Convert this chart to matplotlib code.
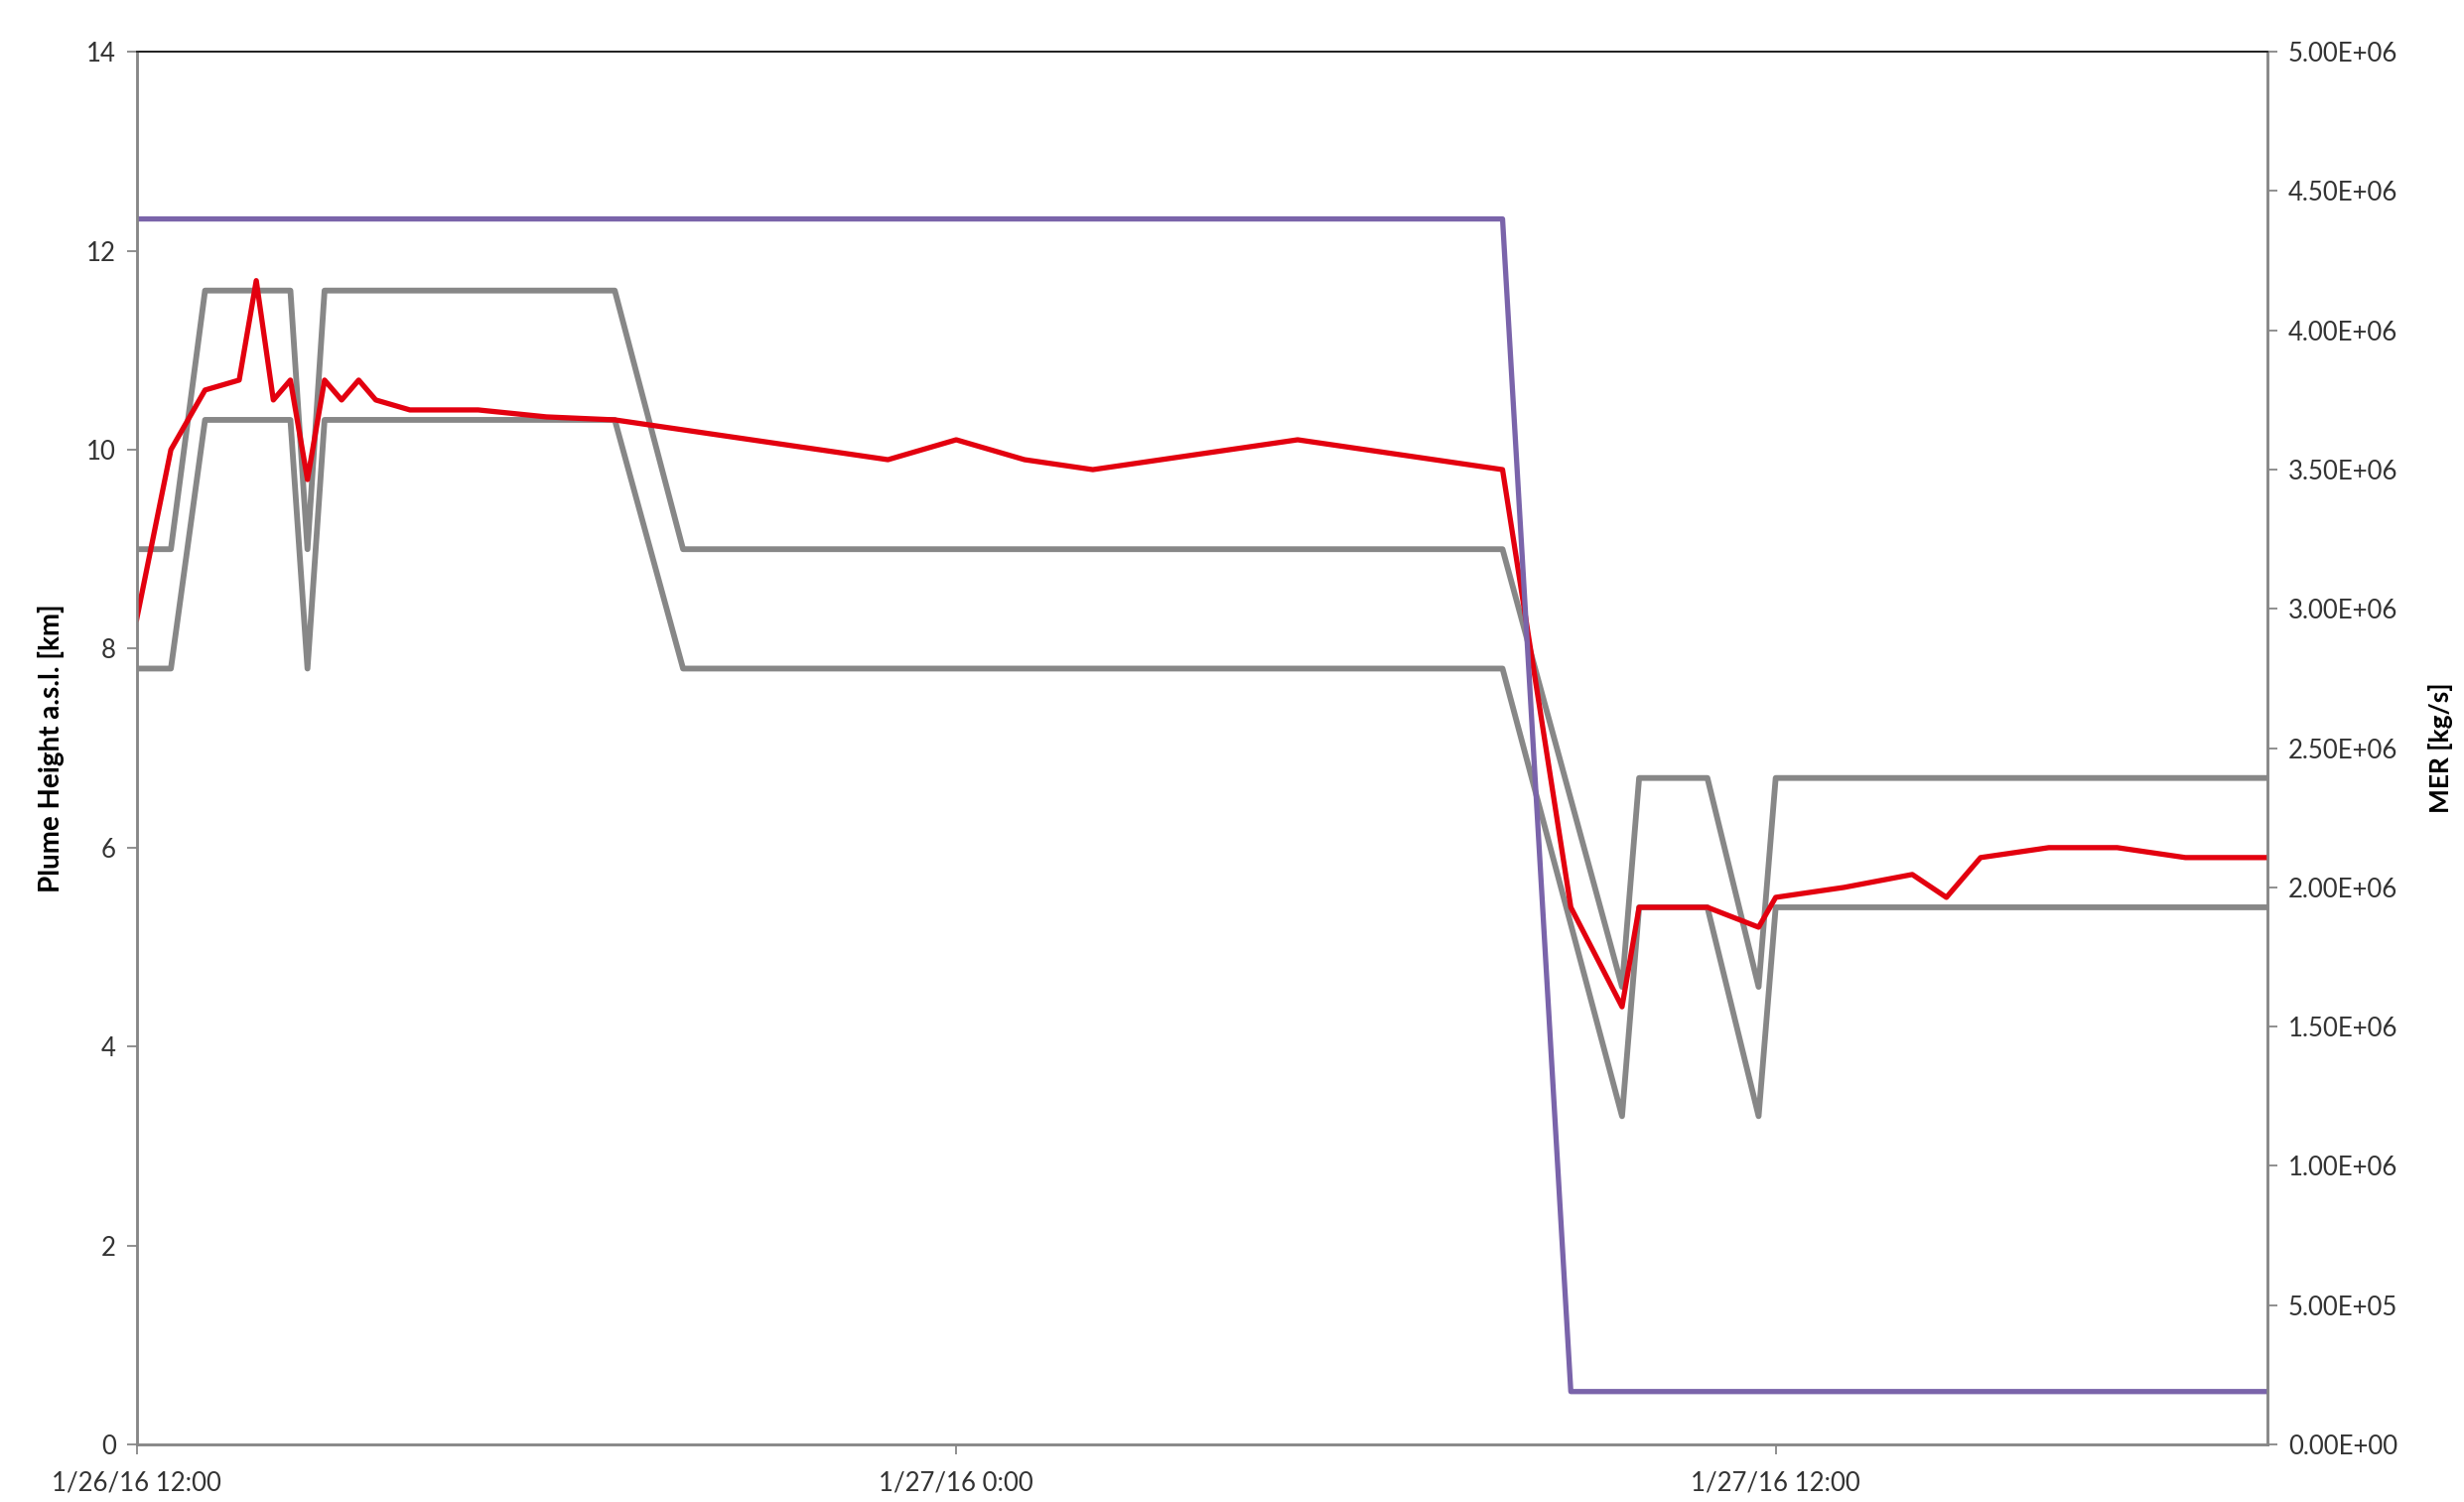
import numpy as np
import pandas as pd
import matplotlib
matplotlib.use('Agg')
import matplotlib.pyplot as plt
import matplotlib.dates as mdates
from matplotlib.ticker import FuncFormatter, MultipleLocator

# start of the record
start = pd.Timestamp('2016-01-26 12:00')

# plume height observations (hours after start, km a.s.l.)
obs_hours = [0, 0.5, 1, 1.5, 1.75, 2, 2.25, 2.5, 2.75, 3, 3.25, 3.5, 4, 5, 6, 7,
             9, 11, 12, 13, 14, 17, 20, 21, 21.75, 22, 23, 23.75, 24, 25, 26,
             26.5, 27, 28, 29, 30, 31.2]
obs_height = [8.3, 10.0, 10.6, 10.7, 11.7, 10.5, 10.7, 9.7, 10.7, 10.5, 10.7, 10.5,
              10.4, 10.4, 10.33, 10.3, 10.1, 9.9, 10.1, 9.9, 9.8, 10.1, 9.8, 5.4,
              4.4, 5.4, 5.4, 5.2, 5.5, 5.6, 5.73, 5.5, 5.9, 6.0, 6.0, 5.9, 5.9]

# upper / lower bounds (km)
bound_hours = [0, 0.5, 1, 2.25, 2.5, 2.75, 7, 8, 20, 21.75, 22, 23, 23.75, 24, 31.2]
upper_bound = [9.0, 9.0, 11.6, 11.6, 9.0, 11.6, 11.6, 9.0, 9.0, 4.6, 6.7, 6.7, 4.6, 6.7, 6.7]
lower_bound = [7.8, 7.8, 10.3, 10.3, 7.8, 10.3, 10.3, 7.8, 7.8, 3.3, 5.4, 5.4, 3.3, 5.4, 5.4]

# mass eruption rate (kg/s)
mer_hours = [0, 20, 21, 31.2]
mer_values = [4.4e6, 4.4e6, 1.9e5, 1.9e5]


def to_time(h):
    return start + pd.to_timedelta(h, unit='h')


plt.rcParams['font.family'] = ['Lato', 'DejaVu Sans']

fig = plt.figure(figsize=(24.82, 15.13), dpi=100)
ax = fig.add_axes([0.0555, 0.0383, 0.8647, 0.9272])
ax2 = ax.twinx()

grey = '#878787'
ax.plot(to_time(bound_hours), upper_bound, color=grey, lw=4.2, zorder=2)
ax.plot(to_time(bound_hours), lower_bound, color=grey, lw=4.2, zorder=2)
ax.plot(to_time(obs_hours), obs_height, color='#E3000F', lw=3.8, zorder=3)
ax2.plot(to_time(mer_hours), mer_values, color='#7A64AA', lw=3.8)

ax.set_xlim(to_time(0), to_time(31.2))
ax.set_ylim(0, 14)
ax2.set_ylim(0, 5e6)

ax.yaxis.set_major_locator(MultipleLocator(2))
ax2.yaxis.set_major_locator(MultipleLocator(5e5))
ax2.yaxis.set_major_formatter(FuncFormatter(lambda v, p: f'{v:.2E}'))

ax.xaxis.set_major_locator(mdates.HourLocator(byhour=[0, 12]))


def fmt_date(v, p):
    d = mdates.num2date(v)
    return f'{d.month}/{d.day}/{d:%y} {d.hour}:{d:%M}'


ax.xaxis.set_major_formatter(FuncFormatter(fmt_date))

for a in (ax, ax2):
    for s in ('left', 'right', 'bottom'):
        a.spines[s].set_color(grey)
        a.spines[s].set_linewidth(1.8)
    a.spines['top'].set_color('#222222')
    a.spines['top'].set_linewidth(1.3)
    a.tick_params(length=7, width=1.3, color=grey, labelsize=18.5,
                  labelcolor='#333333', pad=8)
ax.tick_params(axis='x', pad=12)

ax.set_ylabel('Plume Height a.s.l. [km]', fontsize=20, fontweight='bold', labelpad=16)
ax2.set_ylabel('MER [kg/s]', fontsize=19, fontweight='bold', rotation=90, labelpad=22)

fig.savefig('out.png', dpi=100)
